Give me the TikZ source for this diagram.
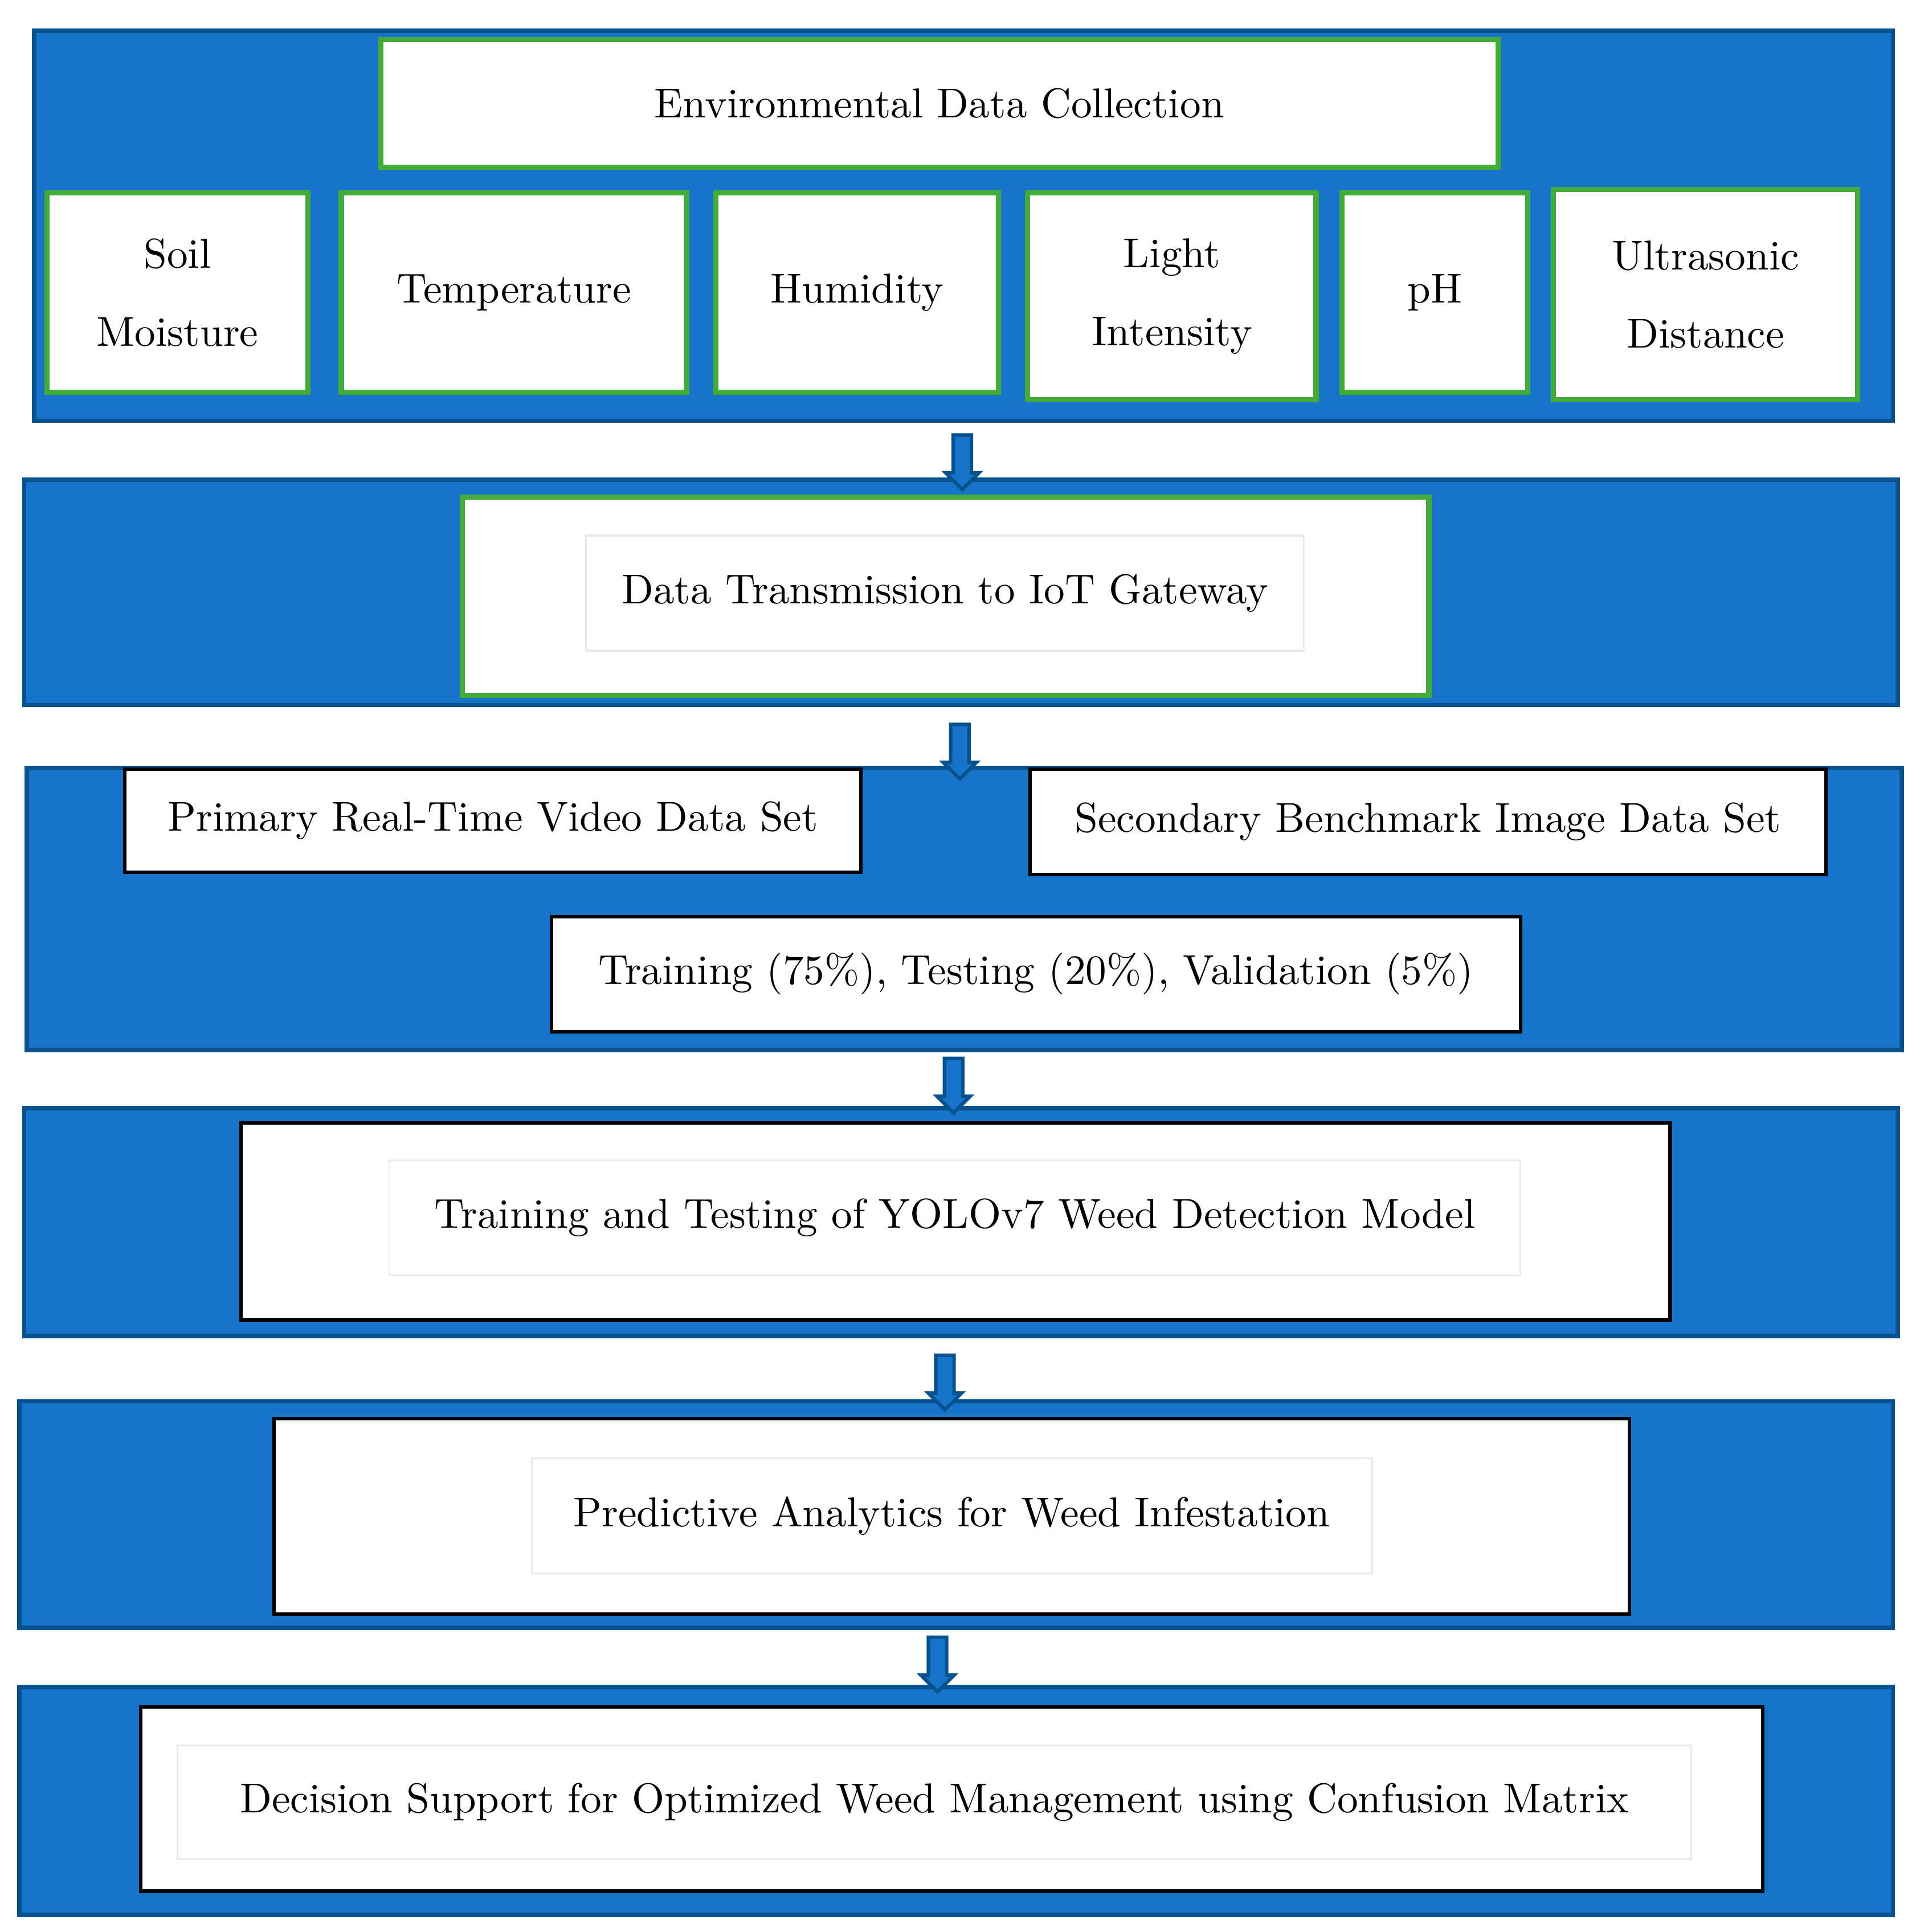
\documentclass[tikz,border=0pt]{standalone}
\usetikzlibrary{shapes.arrows}
\definecolor{panelblue}{HTML}{1874C8}
\definecolor{paneledge}{HTML}{05528F}
\definecolor{boxgreen}{HTML}{43AB3A}
\tikzset{
  panel/.style={draw=paneledge,line width=1pt,fill=panelblue,minimum width=#1,inner sep=0pt},
  gbox/.style={draw=boxgreen,line width=1.2pt,fill=white,align=center,inner sep=0pt,font=\fontsize{9.6}{18}\selectfont},
  kbox/.style={draw=black,line width=0.8pt,fill=white,align=center,inner sep=0pt,font=\fontsize{9.6}{12}\selectfont},
  fbox/.style={draw=black!8,line width=0.4pt,fill=white,inner sep=0pt,font=\fontsize{9.6}{12}\selectfont},
  down/.style={single arrow,draw=paneledge,line width=0.8pt,fill=panelblue,rotate=270,
    minimum height=0.44cm,minimum width=0.25cm,single arrow head extend=0.06cm,inner sep=0.06cm}
}
\begin{document}
\begin{tikzpicture}[x=0.01cm,y=-0.01cm]
    \useasboundingbox (0,0) rectangle (1552,1562);

    % Environmental data
    \node[panel=15.02cm,minimum height=3.15cm] (p1) at (779,182.5) {};
    \node[gbox,minimum width=9.03cm,minimum height=1.03cm] (env) at (759.5,83.5) {Environmental Data Collection};
    \node[gbox,minimum width=2.11cm,minimum height=1.61cm] (soil) at (143.5,236.5) {Soil\\Moisture};
    \node[gbox,minimum width=2.79cm,minimum height=1.61cm] (temp) at (415.5,236.5) {Temperature};
    \node[gbox,minimum width=2.28cm,minimum height=1.61cm] (hum) at (693,236.5) {Humidity};
    \node[gbox,minimum width=2.33cm,minimum height=1.67cm] (light) at (947.5,239.5) {Light\\Intensity};
    \node[gbox,minimum width=1.50cm,minimum height=1.61cm] (ph) at (1160,236.5) {pH};
    \node[gbox,minimum width=2.46cm,minimum height=1.70cm] (ultra) at (1379,238) {Ultrasonic\\Distance};

    % Transmission
    \node[panel=15.14cm,minimum height=1.82cm] (p2) at (777,479) {};
    \node[gbox,minimum width=7.81cm,minimum height=1.60cm] (gw) at (764.5,482) {};
    \node[fbox,minimum width=5.80cm,minimum height=0.93cm] (gwt) at (764,479.5) {Data Transmission to IoT Gateway};

    % Data sets
    \node[panel=15.15cm,minimum height=2.28cm] (p3) at (779.5,735) {};
    \node[kbox,minimum width=5.95cm,minimum height=0.83cm] (prim) at (398.5,663.5) {Primary Real-Time Video Data Set};
    \node[kbox,minimum width=6.43cm,minimum height=0.85cm] (sec) at (1154.5,664.5) {Secondary Benchmark Image Data Set};
    \node[kbox,minimum width=7.83cm,minimum height=0.93cm] (split) at (837.5,787.5) {Training (75\%), Testing (20\%), Validation (5\%)};

    % Model
    \node[panel=15.14cm,minimum height=1.84cm] (p4) at (777,988) {};
    \node[kbox,minimum width=11.55cm,minimum height=1.59cm] (yolo) at (772.5,987.5) {};
    \node[fbox,minimum width=9.14cm,minimum height=0.93cm] (yolot) at (772,984.5) {Training and Testing of YOLOv7 Weed Detection Model};

    % Analytics
    \node[panel=15.14cm,minimum height=1.83cm] (p5) at (773,1224.5) {};
    \node[kbox,minimum width=10.95cm,minimum height=1.58cm] (pred) at (769.5,1226) {};
    \node[fbox,minimum width=6.79cm,minimum height=0.93cm] (predt) at (769.5,1225.5) {Predictive Analytics for Weed Infestation};

    % Decision
    \node[panel=15.14cm,minimum height=1.84cm] (p6) at (773,1456) {};
    \node[kbox,minimum width=13.11cm,minimum height=1.49cm] (dec) at (769.5,1454.5) {};
    \node[fbox,minimum width=12.23cm,minimum height=0.92cm] (dect) at (755.5,1457) {Decision Support for Optimized Weed Management using Confusion Matrix};

    % Arrows
    \node[down] (a1) at (778,370) {};
    \node[down] (a2) at (776,604) {};
    \node[down] (a3) at (771,874) {};
    \node[down] (a4) at (764,1114) {};
    \node[down] (a5) at (758,1342) {};
\end{tikzpicture}
\end{document}
